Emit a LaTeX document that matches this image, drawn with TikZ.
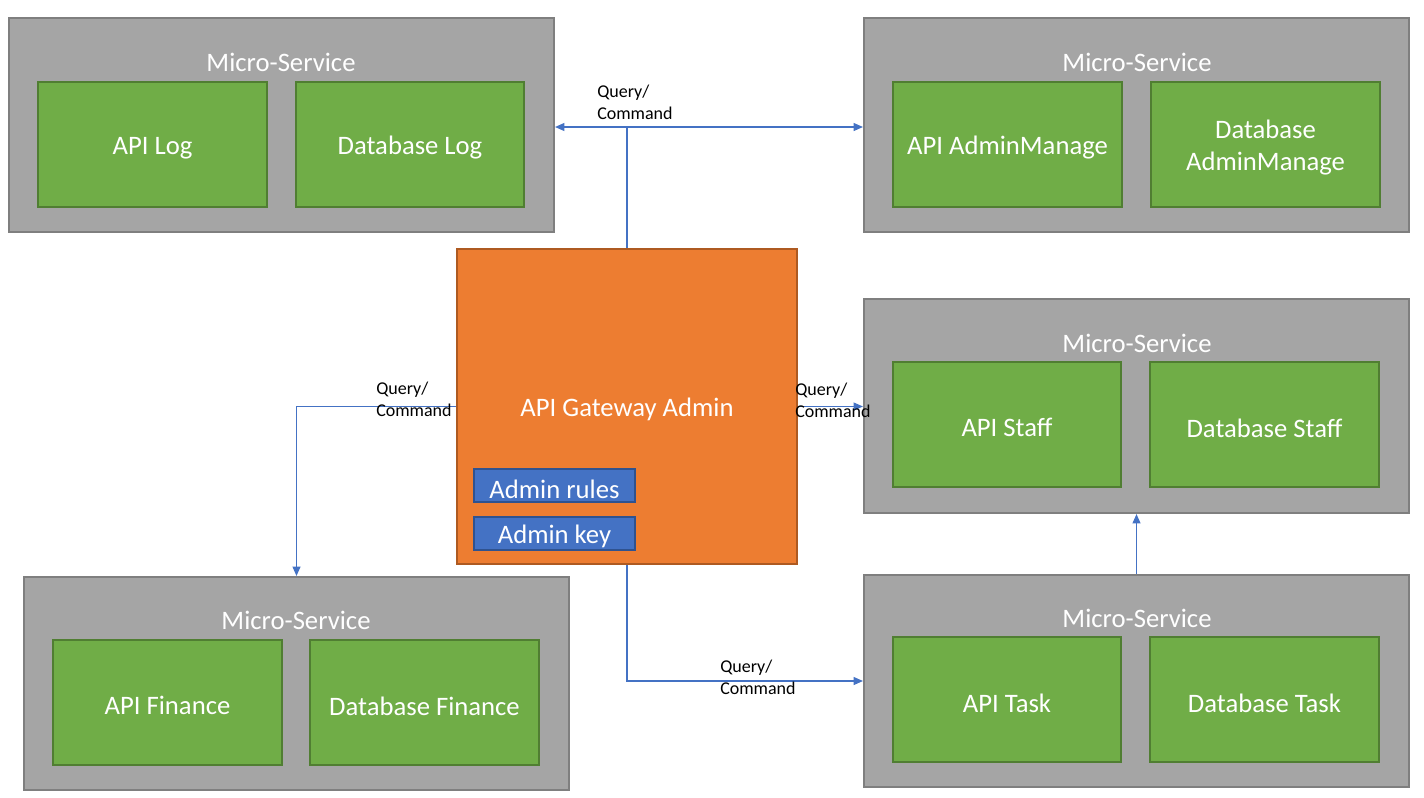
\documentclass[tikz,border=0pt]{standalone}
\usepackage{fontspec}
\setmainfont{Carlito}
\usetikzlibrary{fit,arrows.meta}
\definecolor{msfill}{HTML}{A5A5A5}
\definecolor{msdraw}{HTML}{7F7F7F}
\definecolor{gfill}{HTML}{70AD47}
\definecolor{gdraw}{HTML}{507E32}
\definecolor{ofill}{HTML}{ED7D31}
\definecolor{odraw}{HTML}{AE5A21}
\definecolor{bfill}{HTML}{4472C4}
\definecolor{bdraw}{HTML}{2F528F}
\tikzset{
  msbox/.style={draw=msdraw, fill=msfill, line width=1.6pt, inner sep=0pt},
  gbox/.style={draw=gdraw, fill=gfill, line width=1.2pt, inner sep=0pt},
  gwbox/.style={draw=odraw, fill=ofill, line width=1.5pt, inner sep=0pt},
  kbox/.style={draw=bdraw, fill=bfill, line width=1.5pt, inner sep=0pt},
  lab/.style={text=white, font=\fontsize{20}{24}\selectfont, align=center, inner sep=0pt, yshift=-2.5pt},
  title/.style={text=white, font=\fontsize{20}{24}\selectfont, inner sep=0pt},
  conn/.style={draw=bfill, line width=0.8pt},
  tip/.style={-{Triangle[length=7pt,width=6pt]}},
  qlabel/.style={font=\fontsize{13.5}{16.5}\selectfont, align=left, anchor=base west, inner sep=0pt}
}
\begin{document}
\begin{tikzpicture}[x=0.75pt,y=-0.75pt]
\useasboundingbox (0,0) rectangle (1424,797);
% micro-service containers
\node[msbox, fit={(9,18) (554,232)}] (msLog) {};
\node[msbox, fit={(864,18) (1409,232)}] (msAdm) {};
\node[msbox, fit={(864,299) (1409,513)}] (msStaff) {};
\node[msbox, fit={(864,575) (1409,787)}] (msTask) {};
\node[msbox, fit={(24,577) (569,790)}] (msFin) {};
% titles
\node[title] (tLog) at (281,62) {Micro-Service};
\node[title] (tAdm) at (1137,62) {Micro-Service};
\node[title] (tStaff) at (1137,343) {Micro-Service};
\node[title] (tTask) at (1137,618) {Micro-Service};
\node[title] (tFin) at (296,620) {Micro-Service};
% inner boxes
\node[gbox, fit={(38,82) (267,207)}, label={[lab]center:API Log}] (apiLog) {};
\node[gbox, fit={(296,82) (524,207)}, label={[lab]center:Database Log}] (dbLog) {};
\node[gbox, fit={(893,82) (1122,207)}, label={[lab]center:API AdminManage}] (apiAdm) {};
\node[gbox, fit={(1151,82) (1380,207)}, label={[lab]center:Database\\AdminManage}] (dbAdm) {};
\node[gbox, fit={(893,362) (1121,487)}, label={[lab]center:API Staff}] (apiStaff) {};
\node[gbox, fit={(1150,362) (1379,487)}, label={[lab]center:Database Staff}] (dbStaff) {};
\node[gbox, fit={(893,637) (1121,762)}, label={[lab]center:API Task}] (apiTask) {};
\node[gbox, fit={(1150,637) (1379,762)}, label={[lab]center:Database Task}] (dbTask) {};
\node[gbox, fit={(53,640) (282,765)}, label={[lab]center:API Finance}] (apiFin) {};
\node[gbox, fit={(310,640) (539,765)}, label={[lab]center:Database Finance}] (dbFin) {};
% gateway
\node[gwbox, fit={(457,249) (797,564)}] (gw) {};
\node[title] (gwText) at (627,409) {API Gateway Admin};
\node[kbox, fit={(474,469) (635,502)}, label={[lab]center:Admin rules}] (rules) {};
\node[kbox, fit={(474,517) (635,550)}, label={[lab]center:Admin key}] (key) {};
% connectors
\coordinate (tj) at (628,127);
\draw[conn] (gw.north) -- (gw.north |- tj);
\draw[conn, {Triangle[length=7pt,width=6pt]}-{Triangle[length=7pt,width=6pt]}] (msLog.east |- tj) -- (msAdm.west |- tj);
\draw[conn, tip] (gw.west) -| (msFin.north);
\draw[conn, tip] (gw.east) -- (msStaff.west |- gw.east);
\draw[conn, tip] (gw.south) |- (msTask.west);
\draw[conn, tip] (msTask.north) -- (msStaff.south);
% labels
\node[qlabel] (qTop) at (597,119.5) {Query/\\Command};
\node[qlabel] (qLeft) at (376,416.5) {Query/\\Command};
\node[qlabel] (qRight) at (795,417.5) {Query/\\Command};
\node[qlabel] (qBot) at (720,694.5) {Query/\\Command};
\end{tikzpicture}
\end{document}
